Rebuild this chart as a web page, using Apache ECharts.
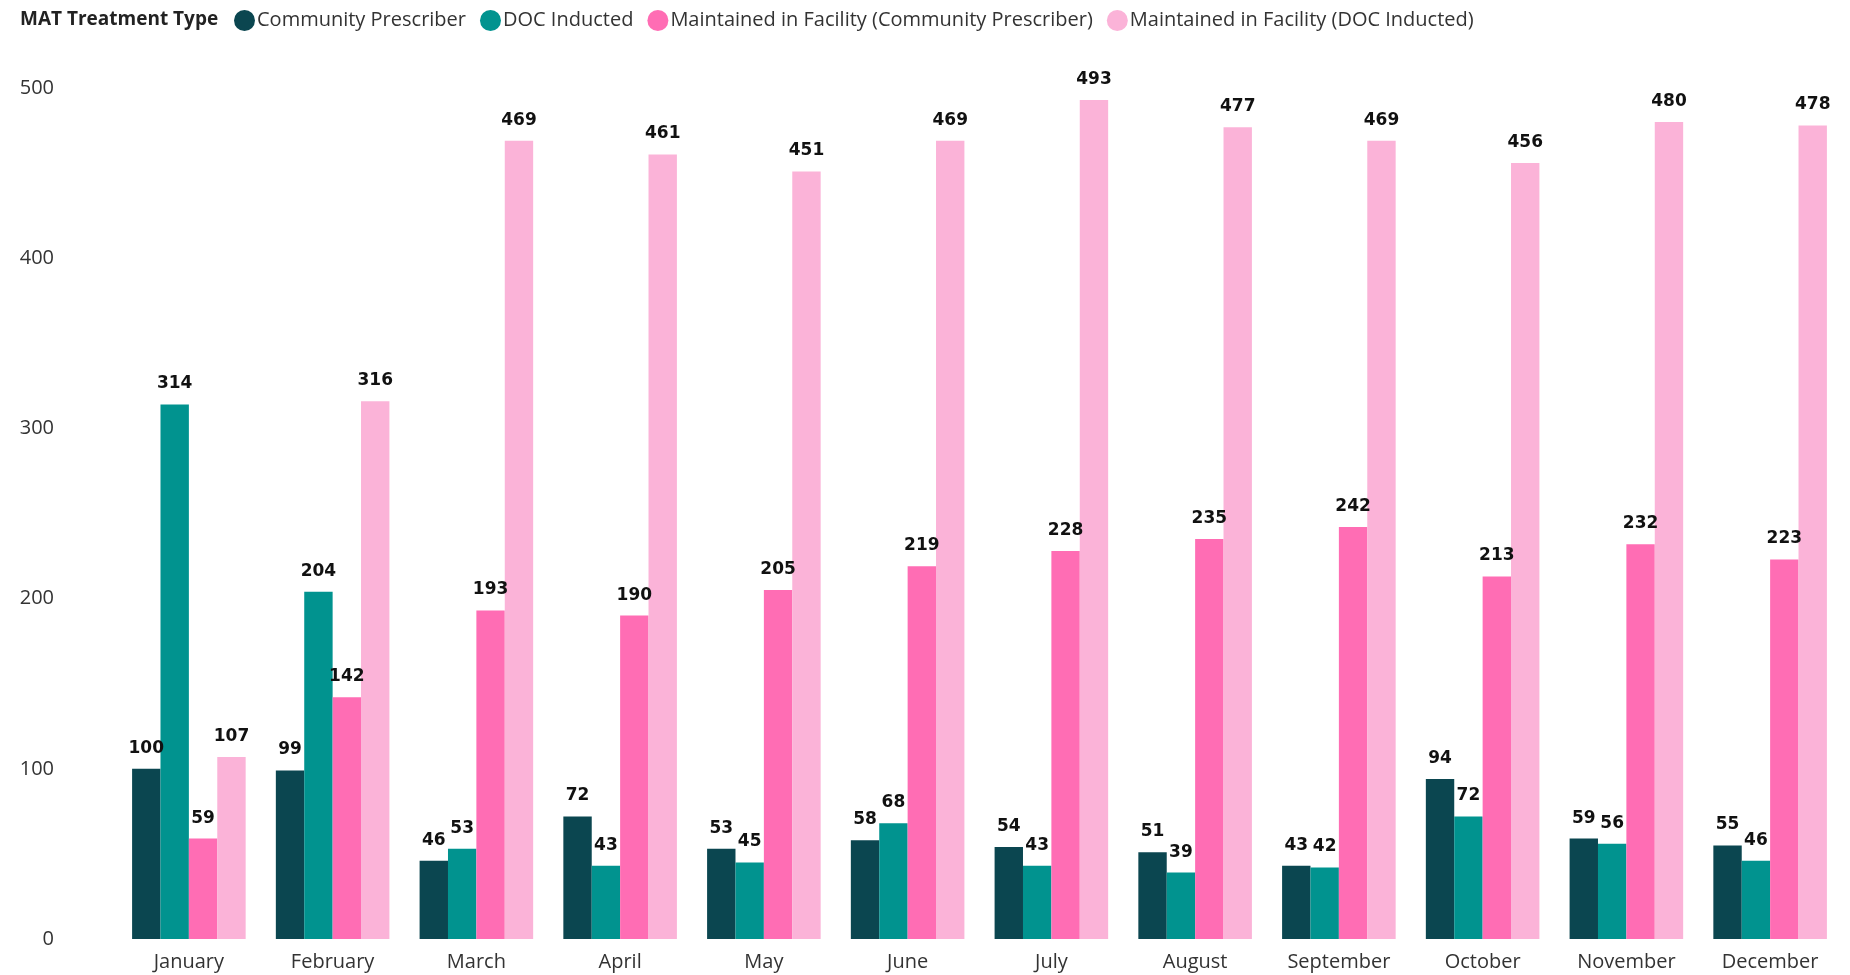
<!DOCTYPE html>
<html>
<head>
<meta charset="utf-8">
<script src="https://cdn.jsdelivr.net/npm/echarts@6/dist/echarts.min.js"></script>
<style>
  html, body { margin: 0; padding: 0; background: #fff; }
  #chart { width: 1850px; height: 975px; }
</style>
</head>
<body>
<div id="chart"></div>
<script>
// months along x
var months = ["January", "February", "March", "April", "May", "June", "July",
  "August", "September", "October", "November", "December"];

// series values
var communityPrescriber = [100, 99, 46, 72, 53, 58, 54, 51, 43, 94, 59, 55];
var docInducted = [314, 204, 53, 43, 45, 68, 43, 39, 42, 72, 56, 46];
var maintainedCP = [59, 142, 193, 190, 205, 219, 228, 235, 242, 213, 232, 223];
var maintainedDOC = [107, 316, 469, 461, 451, 469, 493, 477, 469, 456, 480, 478];

var yTicks = [0, 100, 200, 300, 400, 500];

var colors = ["#0b4650", "#01938f", "#ff6db4", "#fbb3d8"];
var names = ["Community Prescriber", "DOC Inducted",
  "Maintained in Facility (Community Prescriber)", "Maintained in Facility (DOC Inducted)"];
var values = [communityPrescriber, docInducted, maintainedCP, maintainedDOC];

var series_data = [];
for (let i = 0; i < names.length; i++) {
  series_data.push({
    name: names[i],
    type: "bar",
    data: values[i],
    barGap: "0%",
    barCategoryGap: "21%",
    itemStyle: { color: colors[i] },
    label: {
      show: true,
      position: "top",
      distance: 12,
      color: "#111",
      fontFamily: "DejaVu Sans",
      fontWeight: "bold",
      fontSize: 17,
    },
  });
}

var myChart = echarts.init(document.getElementById("chart"));
myChart.setOption({
  animation: false,
  title: {
    text: "MAT Treatment Type",
    left: 15,
    top: 5,
    textStyle: {
      fontFamily: "Open Sans",
      fontWeight: "bold",
      fontSize: 19,
      color: "#222",
    },
  },
  legend: {
    left: 229,
    top: 5,
    icon: "circle",
    itemWidth: 21,
    itemHeight: 21,
    itemGap: 14,
    textStyle: {
      fontFamily: "Open Sans",
      fontSize: 20,
      color: "#333",
      padding: [0, 0, 0, -3],
    },
    data: names,
  },
  grid: {
    left: 117,
    right: 8,
    top: 88,
    bottom: 36,
  },
  xAxis: {
    type: "category",
    data: months,
    axisLine: { show: false },
    axisTick: { show: false },
    axisLabel: {
      margin: 13,
      fontFamily: "Open Sans",
      fontSize: 20,
      color: "#333",
    },
  },
  yAxis: {
    type: "value",
    min: yTicks[0],
    max: yTicks[yTicks.length - 1],
    interval: 100,
    splitLine: { show: false },
    axisLabel: {
      margin: 63,
      fontFamily: "Open Sans",
      fontSize: 20,
      color: "#333",
    },
  },
  series: series_data,
});
</script>
</body>
</html>
